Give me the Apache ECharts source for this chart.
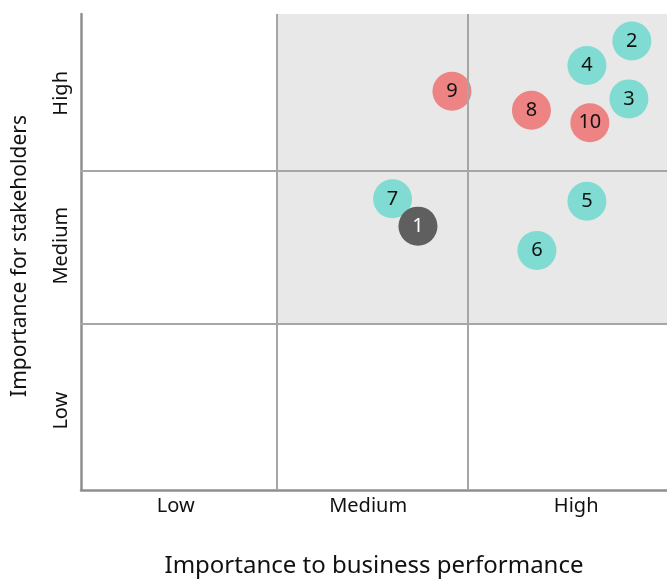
<!DOCTYPE html>
<html>
<head>
<meta charset="utf-8">
<script src="https://cdn.jsdelivr.net/npm/echarts@6/dist/echarts.min.js"></script>
<style>html,body{margin:0;padding:0;background:#fff;}#c{width:667px;height:579px;}</style>
</head>
<body>
<div id="c"></div>
<script>
// Axis level labels and positions (axis units 0..3)
const xLabels = ['Low', 'Medium', 'High'];
const xLabelPos = [0.485, 1.47, 2.535];
const yLabels = ['Low', 'Medium', 'High'];
const yLabelPos = [0.5, 1.54, 2.5];
const xBreaks = [1.0, 1.98];
const yBreaks = [1.046, 2.01];

// Topics
const tealIds = ['2', '3', '4', '5', '6', '7'];
const tealX = [2.82, 2.805, 2.59, 2.59, 2.334, 1.595];
const tealY = [2.83, 2.465, 2.675, 1.82, 1.510, 1.835];

const redIds = ['8', '9', '10'];
const redX = [2.306, 1.899, 2.605];
const redY = [2.393, 2.513, 2.315];

const greyIds = ['1'];
const greyX = [1.725];
const greyY = [1.663];

const FONT = 'Noto Sans';
function pts(ids, xs, ys) { return ids.map((id, i) => [xs[i], ys[i], id]); }

const chart = echarts.init(document.getElementById('c'), null, { renderer: 'canvas' });
const lineStyle = { color: '#a6a6a6', width: 2, type: 'solid' };

function scatter(name, data, color, textColor, z) {
  return {
    name, type: 'scatter', data, symbolSize: 39, z,
    itemStyle: { color, opacity: 1 },
    label: { show: true, position: 'inside', formatter: p => p.value[2], color: textColor, fontFamily: FONT, fontSize: 20 },
    emphasis: { disabled: true }
  };
}

chart.setOption({
  animation: false,
  grid: { left: 81, right: 0, top: 14, bottom: 89, containLabel: false, outerBoundsMode: 'none' },
  xAxis: {
    type: 'value', min: 0, max: 3,
    name: 'Importance to business performance', nameLocation: 'middle', nameGap: 64,
    nameTextStyle: { fontFamily: FONT, fontSize: 24, color: '#111' },
    axisLine: { show: true, lineStyle: { color: '#8f8f8f', width: 2.5 } },
    axisTick: { show: false },
    splitLine: { show: false },
    axisLabel: { customValues: xLabelPos, formatter: v => xLabels[xLabelPos.indexOf(v)] || '', fontFamily: FONT, fontSize: 20, color: '#111', margin: 6 }
  },
  yAxis: {
    type: 'value', min: 0, max: 3,
    name: 'Importance for stakeholders', nameLocation: 'middle', nameGap: 50,
    nameTextStyle: { fontFamily: FONT, fontSize: 21, color: '#111', padding: [0, 0, 0, -8] },
    axisLine: { show: true, lineStyle: { color: '#8f8f8f', width: 2.5 } },
    axisTick: { show: false },
    splitLine: { show: false },
    axisLabel: { customValues: yLabelPos, rotate: 90, formatter: v => yLabels[yLabelPos.indexOf(v)] || '', fontFamily: FONT, fontSize: 20, color: '#111', margin: 10 }
  },
  series: [
    {
      type: 'scatter', data: [], silent: true, z: 1,
      markArea: {
        silent: true,
        itemStyle: { color: '#e8e8e8' },
        data: [[{ coord: [xBreaks[0], yBreaks[0]] }, { coord: [3, 3] }]]
      },
      markLine: {
        silent: true, symbol: 'none', label: { show: false }, lineStyle,
        data: [
          { xAxis: xBreaks[0] }, { xAxis: xBreaks[1] },
          { yAxis: yBreaks[0] }, { yAxis: yBreaks[1] }
        ]
      }
    },
    scatter('teal', pts(tealIds, tealX, tealY), '#80dcd2', '#111', 3),
    scatter('red', pts(redIds, redX, redY), '#ee8383', '#111', 3),
    scatter('grey', pts(greyIds, greyX, greyY), '#5f5f5f', '#ffffff', 4)
  ]
});
</script>
</body>
</html>
